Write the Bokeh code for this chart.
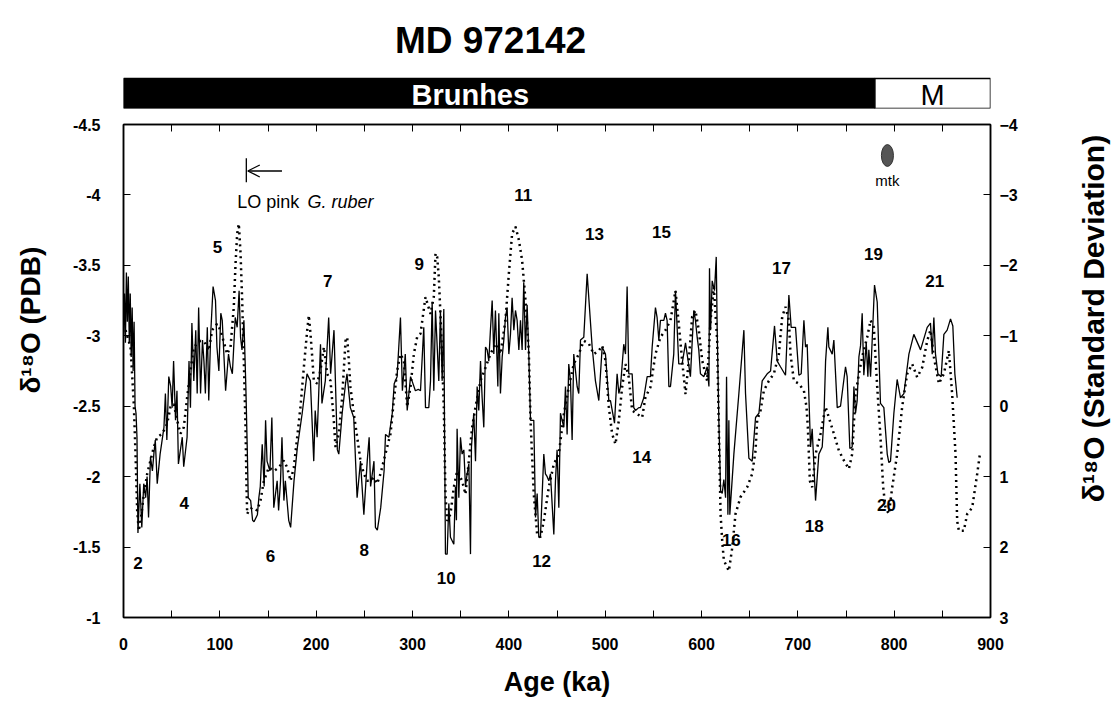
import math
from bokeh.plotting import figure
from bokeh.models import Range1d, LinearAxis, FixedTicker, Arrow, OpenHead
from bokeh.layouts import column, row
from bokeh.core.properties import value
from bokeh.embed import file_html
from bokeh.resources import INLINE

FONT = "Liberation Sans"

# ---------------- data ----------------
# MD 972142 planktonic d18O (per mil PDB), left axis
age_d18o = [0, 1, 2, 3, 4, 5, 6, 7, 8, 9, 10, 11, 12, 13, 14, 15, 17, 19, 21, 23, 24.5, 26, 28, 30, 31.5,
            33, 35, 38, 42, 43.5, 45, 47, 49, 50.5, 52, 54, 55.5, 57, 61, 62.5, 66, 68, 69.5, 71, 73, 75,
            76.5, 78, 80, 82, 83.5, 85, 87, 88.5, 90.5, 93, 95.5, 97, 99, 101, 102.5, 106, 109, 111, 113,
            116, 118, 120, 121.5, 123, 125, 127, 128.5, 129.5, 132, 134, 135.5, 139, 140.5, 142, 144, 146,
            147.5, 149, 152, 154, 156, 159.5, 161, 163, 164.5, 166.5, 168, 171.5, 173.5, 177, 180.5, 185.5,
            190.5, 194, 197.5, 199, 201, 204.5, 206, 209.5, 213, 215, 218.5, 222, 223.5, 227, 230.5, 232,
            235.5, 239, 242.5, 246, 249.5, 253, 255, 256.5, 260, 261.5, 263.5, 267, 270.5, 272, 275.5, 279,
            281, 284, 287.5, 289.5, 292.5, 294.5, 298, 303, 306,
            308.3, 311.7, 313.5, 316.9, 318.7, 320.4, 322.1, 323.9, 327.3, 329.0, 330.8, 332.5, 333.2,
            334.2, 336.0, 337.7, 339.4, 342.9, 344.6, 345.6, 346.3, 348.1, 349.8, 351.5, 353.3, 355.0,
            356.7, 358.5, 360.2, 361.2, 363.6, 365.4, 367.1, 368.8, 370.6, 372.3, 374.0, 375.8, 377.5,
            379.2, 380.9, 382.7, 384.4, 386.1, 388.6, 389.6, 391.3, 393.1, 394.8, 396.5, 398.2, 400.0,
            401.7, 403.4, 405.2, 406.9, 408.6, 410.4, 412.1, 413.8, 415.5, 417.3, 419.0, 420.7, 422.5,
            425.9, 427.7, 429.4, 431.1, 432.8, 436.3, 438.0, 439.8, 441.5, 443.2, 446.7, 448.4, 450.1,
            451.9, 453.6, 455.3, 457.1, 458.8, 460.5, 462.2, 464.0, 465.7, 467.4, 470.9, 472.6, 474.4,
            477.8, 481.3, 486.5, 489.9, 493.4, 496.9, 500.3, 503.8, 505.5, 509.7, 512.4, 514.2, 515.9,
            519.3, 521.1, 522.8, 524.5, 528.0, 529.7, 531.5, 534.9, 536.6, 540.1, 543.6, 547.0, 548.8,
            552.2, 553.9, 555.7, 557.4, 560.9, 562.6, 564.3, 566.1, 567.8, 571.2, 573.0, 576.4, 579.9,
            583.4, 585.1, 588.5, 592.0, 593.7, 595.5, 597.2, 598.9,
            602.5, 605.9, 607.7, 608.3, 609.4, 611.1, 613.5, 615.3, 616.3, 618.0, 619.8, 621.5, 623.2,
            625.0, 626.0, 627.4, 628.4, 629.4, 633.6, 638.8, 644.0, 645.7, 649.2, 652.6, 656.1, 659.6,
            663.0, 668.2, 671.7, 675.8, 678.6, 682.0, 687.2, 690.7, 693.1, 697.6, 701.1, 703.5, 706.3,
            708.0, 709.7, 713.2, 714.9, 718.4, 721.8, 725.3, 727.0, 728.8, 731.2, 732.2, 735.7, 737.4,
            740.9, 744.3, 749.5, 751.2, 754.0, 756.4, 758.2, 759.9, 761.6, 763.4, 765.1, 766.8, 768.5,
            771.0, 772.7, 773.7, 775.5, 777.2, 779.6, 782.4, 785.8, 789.3, 792.8, 794.5, 796.2, 799.7,
            803.1, 806.6, 810.1, 815.3, 820.4, 827.4, 834.3, 837.7, 839.5, 841.2, 842.9, 845.4, 848.8,
            851.6, 855.0, 858.5, 860.9, 863.0, 865.4]
d18o = [-3.0, -3.3, -2.95, -3.45, -3.1, -3.42, -2.95, -3.3, -2.85, -3.2, -2.75, -3.1, -2.5, -2.45, -2.28,
        -1.6, -1.95, -1.64, -1.95, -1.85, -2.0, -1.71, -2.14, -2.04, -2.16,
        -2.26, -1.95, -2.16, -2.35, -2.59, -2.26, -2.71, -2.64, -2.49, -2.82, -2.40, -2.61, -2.09, -2.28,
        -2.07, -2.28, -2.82, -2.49, -3.09, -2.68, -3.04,
        -2.59, -3.20, -2.59, -2.97, -2.82, -2.59, -3.06, -2.54, -3.01, -3.35, -3.25, -2.92, -2.75, -3.16,
        -3.11, -2.61, -2.87, -2.78, -2.73,
        -3.13, -3.06, -3.32, -2.99, -2.90, -3.11, -2.64, -2.19, -1.85, -1.83, -1.69, -1.68, -1.73, -1.85,
        -1.93, -2.23, -1.93,
        -2.40, -2.11, -2.04, -2.42, -1.78, -1.97, -1.76, -1.97, -2.28, -1.83, -1.97, -1.69, -1.64, -1.97,
        -2.21, -2.45,
        -2.73, -2.68, -2.11, -2.47, -2.28, -2.94, -2.52, -2.68, -3.13, -2.73, -3.04, -2.19, -2.16, -2.45,
        -2.66, -2.73,
        -2.49, -2.42, -1.85, -2.11, -1.73, -2.11, -2.28, -1.93, -2.11, -1.64, -1.62, -1.78, -2.04, -2.30,
        -2.28, -2.45,
        -2.66, -2.71, -3.13, -2.61, -2.87, -2.47, -2.71, -2.61, -2.62,
        -2.61, -3.06, -2.49, -2.49, -2.68, -3.24, -2.61, -3.18, -2.68, -3.18, -2.68, -3.19, -2.40,
        -1.45, -1.45, -1.81, -1.57, -1.52, -1.93, -1.69, -2.34, -1.85, -2.28, -2.16, -2.19, -1.93,
        -2.02, -2.09, -1.45, -2.21, -2.45, -2.11, -2.64, -2.47, -2.82, -2.56, -2.35, -2.92, -2.90,
        -2.82, -3.04, -3.25, -2.87, -3.18, -2.64, -3.16, -2.59, -2.85, -2.97, -3.13, -3.20, -2.87,
        -3.01, -3.27, -3.04, -3.18, -3.11, -2.90, -3.11, -2.90, -3.38, -2.90, -3.22, -2.87, -2.40,
        -2.40, -1.71, -1.88, -1.57, -1.57, -2.16, -2.02, -2.0, -1.97, -2.02, -1.59, -1.97, -2.19,
        -1.78, -2.45, -2.40, -2.35, -2.64, -2.30, -2.80, -2.68, -2.26, -2.87, -2.64, -2.59, -2.97,
        -2.99, -3.44, -2.92, -2.68, -2.54, -2.92, -2.87, -2.54, -2.54, -2.38, -2.73, -2.59, -2.64,
        -2.94, -2.87, -3.35, -2.73, -2.73, -2.49, -2.47, -2.49, -2.49, -2.56, -2.71, -2.71, -2.92,
        -3.20, -3.13, -2.97, -3.11, -3.11, -3.16, -3.11, -2.64, -2.64, -2.87, -3.32, -2.80, -2.80,
        -2.95, -2.87, -2.71, -3.18, -3.11, -2.99, -2.90, -2.73,
        -2.71, -2.78, -2.64, -3.48, -3.04, -3.39, -3.32, -3.56, -3.04, -2.40, -1.90, -1.88, -1.98,
        -1.85, -2.71, -1.73, -2.40, -1.73, -2.16, -2.59, -3.04, -2.59, -2.13, -2.11, -2.42, -2.45,
        -2.68, -2.73, -2.75, -3.07, -2.82, -2.78, -2.72, -3.29, -3.06, -3.06, -2.72, -2.73, -3.11,
        -2.92, -2.94, -2.21, -2.34, -1.83, -2.16, -2.21, -2.40, -2.82, -3.06, -2.92, -2.87, -2.97,
        -2.49, -2.50, -2.78, -2.71, -2.20, -2.21, -2.64, -2.45, -2.54, -2.85, -2.93, -3.16, -2.72,
        -2.95, -2.71, -2.90, -2.71, -2.97, -3.36, -3.24, -2.52, -2.49, -2.16, -2.10, -2.11, -2.45,
        -2.69, -2.56, -2.59, -2.87, -3.01, -2.90, -3.06, -3.09, -2.87, -3.13, -2.87, -2.73, -2.71,
        -3.01, -3.04, -3.12, -3.07, -2.73, -2.56]

# stacked reference curve (standard deviation units), right axis
age_sd = [2.1, 7.3, 10.7, 12.5, 14.2, 15.9, 17.7, 21.1, 24.6, 28.0, 31.5, 35.0, 40.2, 45.3, 48.8, 52.3,
          55.7, 59.2, 62.6, 66.1, 69.6, 73.0, 79.9, 85.1, 88.6, 92.0, 97.2, 100.7, 107.6, 111.1, 114.5,
          116.3, 118.0, 119.7, 121.5, 123.2, 124.9, 126.7, 127.7, 128.4, 130.1, 133.6, 138.8, 142.2,
          145.7, 150.9, 156.1, 161.3, 166.4, 169.9, 173.4, 176.8, 180.3, 183.7, 187.2, 190.7, 192.4,
          194.1, 195.9, 197.6, 201.0, 204.5, 208.0, 211.4, 214.9, 218.3, 220.1, 223.5, 227.0, 230.5,
          232.2, 233.9, 235.6, 239.1, 242.6, 246.0, 249.5, 253.0, 256.4, 259.9, 263.3, 266.8, 270.2,
          273.7, 277.2, 280.6, 284.1, 287.5, 291.0, 294.5, 297.9, 301.4, 304.8, 308.3,
          313.5, 318.7, 322.1, 323.9, 325.6, 327.3, 329.0, 330.8, 332.5, 334.2, 336.0, 339.4, 342.9,
          346.3, 351.5, 355.0, 358.5, 361.9, 365.4, 370.6, 375.8, 380.9, 386.1, 391.3, 396.5, 400.0,
          403.4, 406.9, 410.4, 413.8, 417.3, 420.7, 422.5, 425.9, 429.4, 432.8, 436.3, 441.5, 446.7,
          451.9, 457.1, 462.2, 467.4, 472.6, 477.8, 483.0, 488.2, 493.4, 496.9, 500.3, 503.8, 507.2,
          510.7, 514.2, 517.6, 521.1, 524.5, 528.0, 533.2, 538.4, 541.8, 547.0, 552.2, 557.4, 562.6,
          567.8, 573.0, 576.4, 579.9, 583.4, 586.8, 590.3, 593.7, 597.2, 600.7, 605.9,
          609.4, 612.8, 616.3, 618.0, 619.8, 621.5, 623.2, 628.4, 631.9, 635.3, 640.5, 647.4, 652.6,
          656.1, 657.8, 661.3, 664.7, 669.9, 675.1, 680.3, 683.8, 687.2, 690.7, 692.4, 695.9, 701.1,
          706.3, 709.0, 710.4, 712.5, 714.9, 718.4, 723.6, 728.8, 732.2, 737.4, 742.6, 747.8, 753.0,
          756.4, 759.9, 763.4, 766.8, 772.0, 775.5, 778.9, 782.4, 785.8, 788.6, 791.0, 794.5, 798.0,
          803.1, 808.3, 813.5, 818.7, 823.9, 829.1, 834.3, 837.7, 841.2, 846.4, 851.6, 856.8, 860.2,
          863.7, 865.4, 867.2, 872.3, 875.8, 881.0, 886.2, 889.0]
sd = [-1.08, -0.84, -0.03, 0.68, 1.48, 1.77, 1.63, 1.25, 0.96, 0.77, 0.58, 0.44, 0.39, 0.25, 0.01, -0.03,
      0.20, 0.39, 0.30, -0.13, -0.51, -0.84, -0.93, -0.89, -0.79, -1.08, -1.17, -1.08, -0.74, -0.84, -1.41,
      -2.02, -2.45, -2.59, -2.17, -1.50, -0.65, 0.30, 1.15, 1.53, 1.48, 1.44, 1.48, 1.34,
      1.06, 0.87, 0.92, 0.87, 0.77, 0.87, 1.06, 0.87, 0.44, 0.01, -0.55, -1.08, -1.29,
      -1.03, -0.70, -0.36, -0.32, -0.51, -0.84, -0.46, -0.36, 0.20, 0.58, 0.39, -0.13, -0.93,
      -0.98, -0.65, -0.27, 0.11, 0.44, 0.77, 0.96, 1.06, 1.06, 1.01, 1.10, 0.96, 0.77,
      0.58, 0.39, -0.08, -0.51, -0.74, -0.65, 0.01, -0.27, -0.74, -0.98, -1.03,
      -1.55, -1.31, -1.55, -2.17, -2.12, -1.83, -1.31, -0.65, 0.01, 1.25, 1.63, 1.53, 1.15,
      0.92, 1.06, 1.25, 0.77, 0.30, 0.01, -0.36, -0.55, -0.74, -0.89, -0.74, -1.22, -1.88,
      -2.45, -2.55, -2.36, -2.07, -1.50, -0.79, 0.20, 1.25, 1.82, 1.86, 1.63, 1.15, 0.82,
      0.68, 0.11, -0.27, -0.60, -0.74, -0.93, -0.89, -0.74, -0.79, -0.86, -0.65, 0.01, 0.39,
      0.54, 0.20, -0.27, -0.60, -0.41, 0.06, 0.11, 0.16, -0.13, -0.27, -0.74, -0.98, -1.08,
      -1.22, -1.64, -1.17, -0.65, -0.17, -0.65, -1.27, -1.36, -1.08, -0.65, -0.36,
      -1.22, -1.69, -0.93, 0.30, 1.53, 1.91, 2.19, 2.34, 2.01, 1.53, 1.29, 1.15, 0.96,
      0.63, 0.20, 0.06, -0.22, -0.36, -0.46, -0.74, -1.27, -1.41, -1.22, -0.74, -0.36, -0.32,
      -0.22, 0.01, 0.30, 1.06, 1.15, 0.68, 0.39, 0.01, 0.16, 0.39, 0.63, 0.77, 0.89,
      0.68, -0.17, -0.46, -0.70, -0.98, -1.22, -1.12, -0.27, 0.44, 1.15, 1.44, 1.53, 1.15,
      0.68, 0.01, -0.46, -0.60, -0.41, -0.55, -0.93, -1.08, -0.70, -0.32, -0.46, -0.79, -0.17,
      0.68, 1.63, 1.77, 1.77, 1.53, 1.44, 0.96, 0.68]

# marine isotope stage labels
stage_text = ["2", "4", "5", "6", "7", "8", "9", "10", "11", "12", "13", "14", "15", "16", "17",
              "18", "19", "20", "21"]
stage_age = [15, 63, 97.6, 152.6, 212, 250, 307, 335, 415, 434, 489, 538, 558.5, 631, 683,
             717, 778.6, 792, 842]
stage_val = [-1.39, -1.81, -3.63, -1.44, -3.39, -1.48, -3.51, -1.28, -4.0, -1.40, -3.72, -2.14,
             -3.74, -1.55, -3.48, -1.65, -3.58, -1.80, -3.39]

# magnetic polarity chrons
chron_name = ["Brunhes", "M"]
chron_start = [0, 780]
chron_end = [780, 900]
chron_color = ["black", "white"]
chron_text_color = ["white", "black"]
chron_text_style = ["bold", "normal"]
chron_label_age = [360, 840]

# events
lo_pink_age = 127.5        # LO pink G. ruber marker
mtk_age = 793              # Matuyama-Brunhes tephra (mtk)

x_ticks = [0, 100, 200, 300, 400, 500, 600, 700, 800, 900]
x_minor = [50, 150, 250, 350, 450, 550, 650, 750, 850]
y_ticks = [-4.5, -4.0, -3.5, -3.0, -2.5, -2.0, -1.5, -1.0]
sd_ticks = [-4, -3, -2, -1, 0, 1, 2, 3]

# ---------------- layout geometry (px) ----------------
FRAME_L = 123
FRAME_R = 990
TOTAL_W = 1112
LEFT_W = 50
RIGHT_W = 87
MAIN_W = TOTAL_W - LEFT_W - RIGHT_W
MAIN_H = 587
TOP_H = 116

def blank_fig(w, h, xr, yr, **kw):
    f = figure(width=w, height=h, x_range=Range1d(*xr), y_range=Range1d(*yr), title=None,
               x_axis_location=None, y_axis_location=None, toolbar_location=None,
               output_backend="svg", outline_line_color=None, **kw)
    f.grid.visible = False
    return f

# ---------------- top: title + polarity bar ----------------
top = blank_fig(TOTAL_W, TOP_H, (0, 900), (0, 100), min_border_left=FRAME_L,
                min_border_right=TOTAL_W - FRAME_R, min_border_top=8, min_border_bottom=8)
top.quad(left=chron_start, right=chron_end, bottom=0, top=30, fill_color=chron_color,
         line_color="black", line_width=1.5)
for i in range(len(chron_name)):
    top.text(x=[chron_label_age[i]], y=[14], text=[chron_name[i]], text_align="center",
             text_baseline="middle", text_color=chron_text_color[i], text_font=value(FONT),
             text_font_size="29px", text_font_style=chron_text_style[i])
top.text(x=[381], y=[68], text=["MD 972142"], text_align="center", text_baseline="middle",
         text_font=value(FONT), text_font_size="37px", text_font_style="bold", text_color="black")

# ---------------- main plot ----------------
p = figure(width=MAIN_W, height=MAIN_H, x_range=Range1d(0, 900), y_range=Range1d(-1, -4.5),
           toolbar_location=None, output_backend="svg", min_border_left=FRAME_L - LEFT_W,
           min_border_right=MAIN_W + LEFT_W - FRAME_R, min_border_top=8, min_border_bottom=86)
p.grid.visible = False
p.outline_line_color = "black"
p.outline_line_width = 1.5
p.extra_y_ranges = {"sd": Range1d(3, -4)}

def style_axis(ax, size="16px"):
    ax.axis_line_color = "black"
    ax.axis_line_width = 1.5
    ax.major_tick_in = 7
    ax.major_tick_out = 0
    ax.minor_tick_in = 7
    ax.minor_tick_out = 0
    ax.major_tick_line_color = "black"
    ax.minor_tick_line_color = "black"
    ax.major_label_text_font = FONT
    ax.major_label_text_font_style = "bold"
    ax.major_label_text_font_size = size
    ax.major_label_text_color = "black"
    ax.axis_label_text_font = FONT
    ax.axis_label_text_font_style = "bold"
    ax.axis_label_text_color = "black"

xa = p.xaxis[0]
xa.ticker = FixedTicker(ticks=x_ticks, minor_ticks=x_minor)
style_axis(xa)
xa.major_label_standoff = 20
xa.axis_label = "Age (ka)"
xa.axis_label_text_font_size = "27px"
xa.axis_label_standoff = 14

ya = p.yaxis[0]
ya.ticker = FixedTicker(ticks=y_ticks)
style_axis(ya)
ya.major_label_overrides = {t: ("%g" % t) for t in y_ticks}
ya.major_label_standoff = 23

ax_top = LinearAxis(ticker=FixedTicker(ticks=x_ticks, minor_ticks=x_minor))
style_axis(ax_top, size="1px")
ax_top.major_label_overrides = {t: "" for t in x_ticks}
ax_top.major_label_standoff = 0
p.add_layout(ax_top, "above")

ax_r = LinearAxis(y_range_name="sd", ticker=FixedTicker(ticks=sd_ticks))
style_axis(ax_r)
ax_r.major_label_standoff = 9
p.add_layout(ax_r, "right")

# curves
p.line(age_sd, sd, y_range_name="sd", line_color="black", line_width=2.5, line_dash="2 4")
p.line(age_d18o, d18o, line_color="black", line_width=1.3)

# stage numbers
p.text(x=stage_age, y=stage_val, text=stage_text, text_align="center", text_baseline="middle",
       text_font=value(FONT), text_font_size="17px", text_font_style="bold", text_color="black")

# LO pink G. ruber
p.segment(x0=[lo_pink_age], y0=[-4.26], x1=[lo_pink_age], y1=[-4.09], line_color="black",
          line_width=1.3)
p.add_layout(Arrow(end=OpenHead(size=12, line_width=1.3, line_color="black"),
                   x_start=lo_pink_age + 37, y_start=-4.17, x_end=lo_pink_age + 1.5, y_end=-4.17,
                   line_width=1.3, line_color="black"))
p.text(x=[118], y=[-3.95], text=["LO pink"], text_align="left", text_baseline="middle",
       text_font=value(FONT), text_font_size="18px", text_color="black")
p.text(x=[191], y=[-3.95], text=["G. ruber"], text_align="left", text_baseline="middle",
       text_font=value(FONT), text_font_size="18px", text_font_style="italic", text_color="black")

# mtk tephra
p.ellipse(x=[mtk_age], y=[-4.28], width=12.5, height=0.155, fill_color="#555555",
          line_color="#333333")
p.text(x=[mtk_age], y=[-4.1], text=["mtk"], text_align="center", text_baseline="middle",
       text_font=value(FONT), text_font_size="15px", text_color="black")

# ---------------- axis titles (read bottom to top), in pixel space ----------------
LEFT_TITLE_Y = 349     # anchor in page px (rendered centre sits ~24px higher)
RIGHT_TITLE_Y = 347
left = blank_fig(LEFT_W, MAIN_H, (0, LEFT_W), (0, MAIN_H), min_border=0)
left.text(x=[30], y=[MAIN_H - (LEFT_TITLE_Y - TOP_H)], text=["δ¹⁸O (PDB)"], angle=math.pi / 2,
          text_align="center", text_baseline="middle", text_font=value(FONT),
          text_font_size="28px", text_font_style="bold", text_color="black")

right = blank_fig(RIGHT_W, MAIN_H, (0, RIGHT_W), (0, MAIN_H), min_border=0)
right.text(x=[1093 - (LEFT_W + MAIN_W)], y=[MAIN_H - (RIGHT_TITLE_Y - TOP_H)],
           text=["δ¹⁸O (Standard Deviation)"], angle=math.pi / 2,
           text_align="center", text_baseline="middle", text_font=value(FONT),
           text_font_size="30px", text_font_style="bold", text_color="black")

layout = column(top, row(left, p, right, spacing=0), spacing=0)
open("out.html", "w").write(file_html(layout, INLINE))
